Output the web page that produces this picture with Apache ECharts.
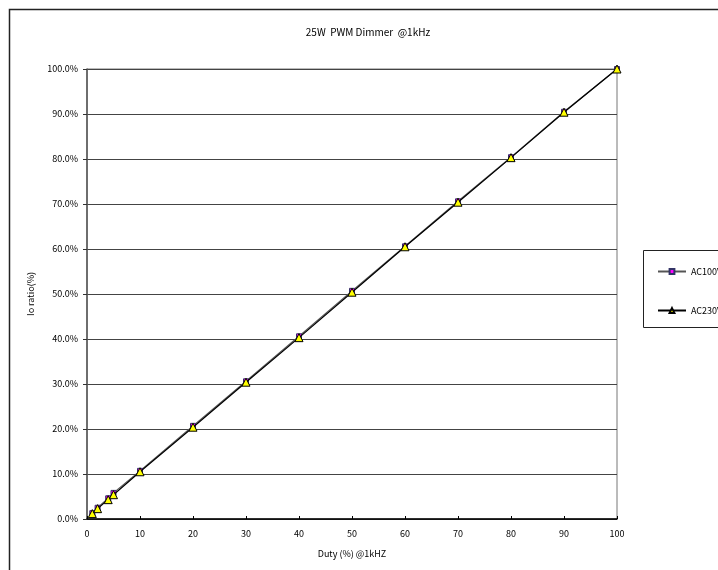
<!DOCTYPE html>
<html><head><meta charset="utf-8">
<script src="https://cdn.jsdelivr.net/npm/echarts@6/dist/echarts.min.js"></script>
<style>html,body{margin:0;padding:0;background:#fff}#c{width:718px;height:570px}</style>
</head><body><div id="c"></div>
<script>
const duty = [1, 2, 4, 5, 10, 20, 30, 40, 50, 60, 70, 80, 90, 100];
const ac100 = [1.3, 2.5, 4.6, 5.8, 10.7, 20.7, 30.6, 40.6, 50.7, 60.6, 70.6, 80.4, 90.5, 100.0];
const ac230 = [1.2, 2.3, 4.3, 5.4, 10.5, 20.4, 30.4, 40.3, 50.4, 60.5, 70.4, 80.3, 90.4, 100.0];
const seriesNames = ['AC100V', 'AC230V'];
const titleText = '25W  PWM Dimmer  @1kHz';
const xName = 'Duty (%) @1kHZ';
const yName = 'Io ratio(%)';

const font = 'Noto Sans CJK JP, DejaVu Sans, sans-serif';
const chart = echarts.init(document.getElementById('c'), null, {renderer: 'canvas'});
chart.setOption({
  animation: false,
  backgroundColor: '#fff',
  title: {text: titleText, left: 363, top: 22, textAlign: 'center',
    textStyle: {fontSize: 10, fontWeight: 'normal', color: '#000', fontFamily: font}},
  graphic: [
    {type: 'rect', shape: {x: 9.5, y: 9.5, width: 740, height: 600}, style: {fill: 'none', stroke: '#222', lineWidth: 1.5}, z: 0},
    {type: 'rect', shape: {x: 643.5, y: 250.5, width: 100, height: 77}, style: {fill: '#fff', stroke: '#222', lineWidth: 1}, z: 1}
  ],
  legend: {
    orient: 'vertical', left: 652, top: 262, itemGap: 30, itemWidth: 28, itemHeight: 6,
    textStyle: {fontSize: 9, color: '#000', fontFamily: font},
    data: seriesNames, z: 5
  },
  grid: {left: 87, right: 101, top: 69, bottom: 51, show: true, borderColor: '#777', borderWidth: 1},
  xAxis: {
    type: 'value', min: 0, max: 100, interval: 10,
    name: xName, nameLocation: 'middle', nameGap: 30,
    nameTextStyle: {fontSize: 9, color: '#000', fontFamily: font},
    axisLine: {lineStyle: {color: '#000', width: 1.5}},
    axisTick: {show: true, inside: true, length: 3, lineStyle: {color: '#000'}},
    axisLabel: {fontSize: 9, color: '#000', fontFamily: font, margin: 10},
    splitLine: {show: false}
  },
  yAxis: {
    type: 'value', min: 0, max: 100, interval: 10,
    name: yName, nameLocation: 'middle', nameGap: 52, nameRotate: 90,
    nameTextStyle: {fontSize: 9, color: '#000', fontFamily: font},
    axisLine: {show: true, lineStyle: {color: '#555', width: 1.5}},
    axisTick: {show: true, length: 4, lineStyle: {color: '#333'}},
    axisLabel: {fontSize: 9, color: '#000', fontFamily: font, margin: 9,
      formatter: v => v.toFixed(1) + '%'},
    splitLine: {show: true, lineStyle: {color: '#444', width: 1}}
  },
  series: [
    {name: seriesNames[0], type: 'line', data: duty.map((d, i) => [d, ac100[i]]),
      symbol: 'rect', symbolSize: 5,
      itemStyle: {color: '#ff00ff', borderColor: '#333366', borderWidth: 1},
      lineStyle: {color: '#555', width: 1.2}, z: 3},
    {name: seriesNames[1], type: 'line', data: duty.map((d, i) => [d, ac230[i]]),
      symbol: 'triangle', symbolSize: 8,
      itemStyle: {color: '#ffff00', borderColor: '#000', borderWidth: 1},
      lineStyle: {color: '#000', width: 1.2}, z: 4}
  ]
});
</script></body></html>
